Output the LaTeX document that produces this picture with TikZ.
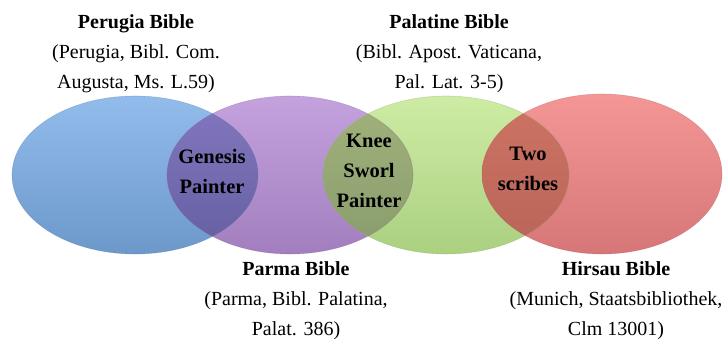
\documentclass[tikz,border=0pt]{standalone}
\usepackage{fontspec}
\setmainfont{Liberation Serif}
\usetikzlibrary{positioning}

\definecolor{blueTop}{RGB}{146,188,236}
\definecolor{blueBot}{RGB}{108,152,202}
\definecolor{purpTop}{RGB}{196,162,222}
\definecolor{purpBot}{RGB}{162,126,190}
\definecolor{greenTop}{RGB}{206,236,164}
\definecolor{greenBot}{RGB}{170,208,128}
\definecolor{redTop}{RGB}{244,150,150}
\definecolor{redBot}{RGB}{214,118,120}
\definecolor{bpTop}{RGB}{132,120,192}
\definecolor{bpBot}{RGB}{100,94,160}
\definecolor{pgTop}{RGB}{162,178,124}
\definecolor{pgBot}{RGB}{136,156,108}
\definecolor{grTop}{RGB}{206,116,100}
\definecolor{grBot}{RGB}{184,100,88}

\tikzset{
  bibletext/.style={font=\fontsize{20}{30}\selectfont, align=center},
  lenstext/.style={font=\fontsize{20.5}{30}\selectfont\bfseries, align=center}
}

\begin{document}
\begin{tikzpicture}[x=1pt,y=-1pt]
  \useasboundingbox (0,0) rectangle (723,343);

  % the four sets
  \shade[top color=blueTop, bottom color=blueBot] (135,175) ellipse [x radius=123, y radius=79];
  \shade[top color=purpTop, bottom color=purpBot] (290,175) ellipse [x radius=123, y radius=79];
  \shade[top color=greenTop, bottom color=greenBot] (446,175) ellipse [x radius=123, y radius=79];
  \shade[top color=redTop, bottom color=redBot] (602,174) ellipse [x radius=120, y radius=80];

  % overlaps
  \begin{scope}
    \clip (135,175) ellipse [x radius=123, y radius=79];
    \shade[top color=bpTop, bottom color=bpBot] (290,175) ellipse [x radius=123, y radius=79];
  \end{scope}
  \begin{scope}
    \clip (290,175) ellipse [x radius=123, y radius=79];
    \shade[top color=pgTop, bottom color=pgBot] (446,175) ellipse [x radius=123, y radius=79];
  \end{scope}
  \begin{scope}
    \clip (446,175) ellipse [x radius=123, y radius=79];
    \shade[top color=grTop, bottom color=grBot] (602,174) ellipse [x radius=120, y radius=80];
  \end{scope}

  % outlines
  \draw[blueBot!80!black, opacity=0.35, line width=0.6] (135,175) ellipse [x radius=123, y radius=79];
  \draw[purpBot!80!black, opacity=0.35, line width=0.6] (290,175) ellipse [x radius=123, y radius=79];
  \draw[greenBot!80!black, opacity=0.35, line width=0.6] (446,175) ellipse [x radius=123, y radius=79];
  \draw[redBot!80!black, opacity=0.35, line width=0.6] (602,174) ellipse [x radius=120, y radius=80];

  % labels of the bibles
  \node[bibletext] (perugia) at (136,54) {\textbf{Perugia Bible}\\(Perugia, Bibl. Com.\\Augusta, Ms. L.59)};
  \node[bibletext] (palatine) at (449,54) {\textbf{Palatine Bible}\\(Bibl. Apost. Vaticana,\\Pal. Lat. 3-5)};
  \node[bibletext] (parma) at (296,301) {\textbf{Parma Bible}\\(Parma, Bibl. Palatina,\\Palat. 386)};
  \node[bibletext] (hirsau) at (616,301) {\textbf{Hirsau Bible}\\(Munich, Staatsbibliothek,\\Clm 13001)};

  % labels of the overlaps
  \node[lenstext] (genesis) at (212,171) {Genesis\\Painter};
  \node[lenstext] (knee) at (369,171) {Knee\\Sworl\\Painter};
  \node[lenstext] (scribes) at (528,169) {Two\\scribes};
\end{tikzpicture}
\end{document}
